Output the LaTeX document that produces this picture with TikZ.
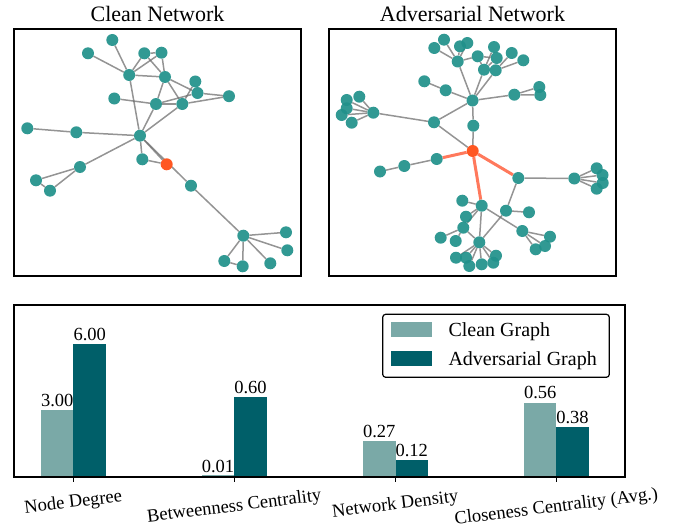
\documentclass[tikz,border=0pt]{standalone}
\usepackage{fontspec}
\setmainfont{Liberation Serif}
\usetikzlibrary{backgrounds}
\definecolor{nodec}{HTML}{20908A}
\definecolor{hotc}{HTML}{FF5722}
\definecolor{hotedge}{HTML}{FF5733}
\definecolor{edgec}{HTML}{707070}
\definecolor{cleanbar}{HTML}{7AA9A7}
\definecolor{advbar}{HTML}{005F69}
\tikzset{
  gn/.style={circle, fill=nodec, fill opacity=0.92, inner sep=0pt, minimum size=12pt},
  hn/.style={circle, fill=hotc, inner sep=0pt, minimum size=12pt},
  ge/.style={draw=edgec, draw opacity=0.75, line width=1.5pt},
  he/.style={draw=hotedge, draw opacity=0.8, line width=3pt},
  panel/.style={draw=black, line width=2pt},
  ttl/.style={font=\fontsize{22}{26}\selectfont, anchor=base, inner sep=0pt},
  val/.style={font=\fontsize{18.5}{22}\selectfont, anchor=base, inner sep=0pt},
  tick/.style={font=\fontsize{18.5}{22}\selectfont, rotate=7, inner sep=0pt},
  leg/.style={font=\fontsize{20}{24}\selectfont, anchor=base west, inner sep=0pt},
  cbar/.style={fill=cleanbar, draw=none},
  abar/.style={fill=advbar, draw=none},
}
\begin{document}
\begin{tikzpicture}[x=1pt, y=-1pt]
\useasboundingbox (0,0) rectangle (683,527);
% titles
\node[ttl] (t1) at (157.5,22) {Clean Network};
\node[ttl] (t2) at (472.5,22) {Adversarial Network};
% panels
\draw[panel] (14,29) rectangle (301,276);
\draw[panel] (329,29) rectangle (616,276);

% ---------- clean network nodes ----------
\node[gn] (c1) at (112.3,40) {};
\node[gn] (c2) at (88,53.3) {};
\node[gn] (c3) at (144.3,53.3) {};
\node[gn] (c4) at (161.5,52.7) {};
\node[gn] (c5) at (129.2,75) {};
\node[gn] (c6) at (165,77) {};
\node[gn] (c7) at (195.3,81.5) {};
\node[gn] (c8) at (197.5,93) {};
\node[gn] (c9) at (229,96.2) {};
\node[gn] (c10) at (114.3,98.5) {};
\node[gn] (c11) at (156,104) {};
\node[gn] (c12) at (182.3,104) {};
\node[gn] (c13) at (27.3,128.3) {};
\node[gn] (c14) at (76.3,132.3) {};
\node[gn] (c15) at (140,135.7) {};
\node[gn] (c16) at (142.3,159.3) {};
\node[hn] (c17) at (166.7,164.3) {};
\node[gn] (c18) at (80,167) {};
\node[gn] (c19) at (36,180.3) {};
\node[gn] (c20) at (50,190.7) {};
\node[gn] (c21) at (191,185.7) {};
\node[gn] (c22) at (243.3,235.7) {};
\node[gn] (c23) at (286,232.3) {};
\node[gn] (c24) at (287.3,250.3) {};
\node[gn] (c25) at (224.3,261) {};
\node[gn] (c26) at (242.7,266.3) {};
\node[gn] (c27) at (270.3,263.3) {};

% ---------- adversarial network nodes ----------
\node[gn] (H) at (472.5,100.5) {};
\node[gn] (A) at (457.7,61.5) {};
\node[gn] (a1) at (434.3,48) {};
\node[gn] (a2) at (444,39.7) {};
\node[gn] (a3) at (460,46.3) {};
\node[gn] (a4) at (467.3,43) {};
\node[gn] (B) at (477.7,56.3) {};
\node[gn] (C1) at (484,69.7) {};
\node[gn] (C2) at (495.7,70.3) {};
\node[gn] (a5) at (494,47) {};
\node[gn] (a6) at (496.7,58) {};
\node[gn] (a7) at (511.7,53) {};
\node[gn] (a8) at (523.3,60.3) {};
\node[gn] (b1) at (424.3,81.3) {};
\node[gn] (b2) at (445.7,90.3) {};
\node[gn] (b4) at (514.3,94.7) {};
\node[gn] (b5) at (539.3,87) {};
\node[gn] (b6) at (540.3,95) {};
\node[gn] (L) at (373.3,112.7) {};
\node[gn] (l1) at (346.7,100) {};
\node[gn] (l2) at (359.3,96.7) {};
\node[gn] (l3) at (346.7,108.3) {};
\node[gn] (l4) at (341.7,115) {};
\node[gn] (l5) at (351.7,122.7) {};
\node[gn] (c7a) at (434,122.3) {};
\node[gn] (b7) at (473.3,125.7) {};
\node[hn] (O) at (472.7,151) {};
\node[gn] (d1) at (436.7,159) {};
\node[gn] (d2) at (404.3,166) {};
\node[gn] (d3) at (380,171.5) {};
\node[gn] (e1) at (518.3,178) {};
\node[gn] (e2) at (574.3,178.5) {};
\node[gn] (e3) at (596.7,168.3) {};
\node[gn] (e4) at (602.5,175) {};
\node[gn] (e5) at (602.7,183) {};
\node[gn] (e6) at (596.7,188.7) {};
\node[gn] (f1) at (481.7,205.7) {};
\node[gn] (f2) at (462.3,200.7) {};
\node[gn] (g) at (506,210.7) {};
\node[gn] (g1) at (529,212.3) {};
\node[gn] (f5) at (466,216.7) {};
\node[gn] (f6) at (463.3,227.7) {};
\node[gn] (f11) at (440.7,237.7) {};
\node[gn] (f12) at (455.7,241) {};
\node[gn] (f13) at (479.3,242.3) {};
\node[gn] (f14) at (456,257.7) {};
\node[gn] (f15) at (466,257.7) {};
\node[gn] (f16) at (469.3,266) {};
\node[gn] (f17) at (481.7,264.3) {};
\node[gn] (f18) at (493.3,262.7) {};
\node[gn] (f19) at (496,255.7) {};
\node[gn] (f7) at (522.3,231) {};
\node[gn] (f8) at (550,236.7) {};
\node[gn] (f9) at (545,246) {};
\node[gn] (f10) at (535.7,249.3) {};

\begin{scope}[on background layer]
% clean edges
\foreach \u/\v in {c1/c5,c2/c5,c5/c3,c5/c4,c3/c4,c3/c6,c4/c6,c5/c6,c5/c15,c6/c11,c6/c12,c6/c8,c7/c12,c8/c9,c12/c9,c11/c8,c11/c12,c10/c11,c11/c15,c12/c15,c13/c14,c14/c15,c15/c18,c18/c19,c18/c20,c19/c20,c15/c16,c16/c17,c15/c17,c15/c21,c21/c22,c22/c23,c22/c24,c22/c25,c22/c26,c22/c27,c25/c26}
  \draw[ge] (\u) -- (\v);
% adversarial edges
\foreach \u/\v in {H/A,H/C1,H/C2,H/b2,b2/b1,H/b4,b4/b5,b4/b6,H/c7a,c7a/L,c7a/O,H/b7,b7/O,L/l1,L/l2,L/l3,L/l4,L/l5,A/a1,A/a2,A/a3,A/a4,A/B,B/C1,C1/a5,C1/a6,C2/a6,C2/a7,C2/a8,B/a6,d1/d2,d2/d3,e1/e2,e2/e3,e2/e4,e2/e5,e2/e6,f1/f2,f1/f5,f1/f6,f1/f13,f1/f7,e1/g,g/g1,g/f13,f6/f11,f6/f12,f6/f13,f13/f14,f13/f15,f13/f16,f13/f17,f13/f18,f13/f19,f7/f8,f7/f9,f7/f10}
  \draw[ge] (\u) -- (\v);
\foreach \v in {d1,e1,f1}
  \draw[he] (O) -- (\v);
\end{scope}

% ---------- bar chart ----------
\draw[cbar] (41,410) rectangle (73.3,476.5);
\draw[abar] (73.3,344) rectangle (106,476.5);
\draw[cbar] (201.8,475.2) rectangle (234.3,476.5);
\draw[abar] (234.3,397) rectangle (266.8,476.5);
\draw[cbar] (363,441) rectangle (395.5,476.5);
\draw[abar] (395.5,460) rectangle (428,476.5);
\draw[cbar] (524,402.5) rectangle (556.3,476.5);
\draw[abar] (556.3,427) rectangle (588.8,476.5);
\draw[panel] (13.5,304.5) rectangle (625,476.5);
% value labels
\node[val] (v1) at (57.2,406) {3.00};
\node[val] (v2) at (89.7,340) {6.00};
\node[val] (v3) at (218,472) {0.01};
\node[val] (v4) at (250.5,393) {0.60};
\node[val] (v5) at (379.2,437) {0.27};
\node[val] (v6) at (411.8,456) {0.12};
\node[val] (v7) at (540.2,398.5) {0.56};
\node[val] (v8) at (572.5,423) {0.38};
% ticks
\foreach \x in {73.3,234.3,395.3,556.3}
  \draw[line width=1.2pt] (\x,476.5) -- (\x,482);
\node[tick] (k1) at (73.3,503) {Node Degree};
\node[tick] (k2) at (234.3,507) {Betweenness Centrality};
\node[tick] (k3) at (395.3,505) {Network Density};
\node[tick] (k4) at (556.3,507.5) {Closeness Centrality (Avg.)};
% legend
\draw[line width=1.2pt, rounded corners=3pt, fill=white] (382.7,314.3) rectangle (609.3,377.3);
\draw[cbar] (391,322.3) rectangle (432,337);
\draw[abar] (391,351) rectangle (432,366);
\node[leg] (lg1) at (448.3,336.5) {Clean Graph};
\node[leg] (lg2) at (448.3,365.5) {Adversarial Graph};
\end{tikzpicture}
\end{document}
